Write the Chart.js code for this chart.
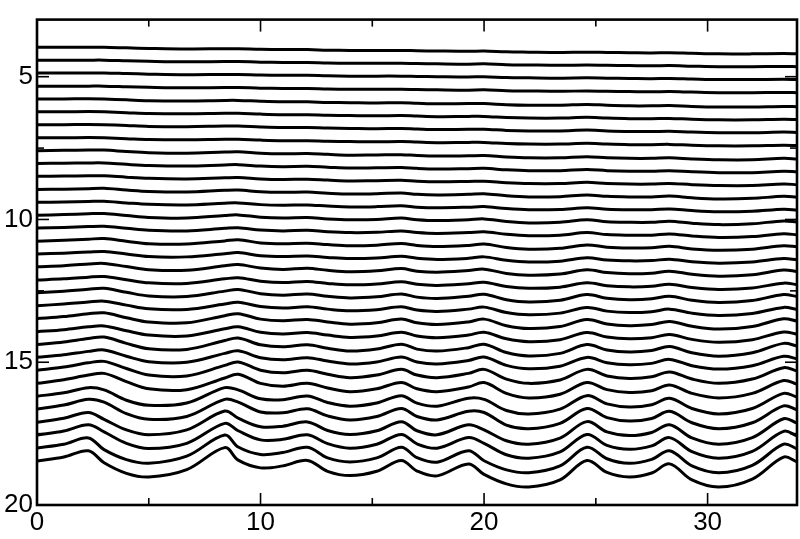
<!DOCTYPE html>
<html><head><meta charset="utf-8">
<script src="https://cdn.jsdelivr.net/npm/chart.js@4.4.0/dist/chart.umd.min.js"></script>
<style>html,body{margin:0;padding:0;background:#fff}canvas{display:block}</style>
</head><body>
<canvas id="c" width="800" height="539"></canvas>
<script>
// shared x positions (distance) for every profile
const xPositions = [0,1.2,2.3,3.0,4.0,5.0,6.7,8.4,9.0,10.0,11.0,12.1,13.0,14.0,15.2,16.3,17.0,17.9,19.3,20.0,21.0,22.0,23.4,24.6,25.5,26.5,27.5,28.3,29.3,30.5,32.0,33.4,34.0];
const xTickLabels = [0,10,20,30];
const xMinorTicks = [5,15,25];
const yTickLabels = [5,10,15,20];
const yMinorTicks = [7.5,12.5,17.5];

const profile00 = [3.97,3.97,3.97,3.97,3.99,4.01,4.03,4.02,4.02,4.04,4.05,4.05,4.07,4.08,4.08,4.08,4.09,4.10,4.11,4.10,4.13,4.14,4.15,4.14,4.15,4.16,4.17,4.16,4.18,4.20,4.20,4.19,4.20];
const profile01 = [4.42,4.42,4.42,4.42,4.44,4.46,4.48,4.47,4.47,4.49,4.50,4.50,4.52,4.53,4.53,4.53,4.54,4.55,4.56,4.55,4.58,4.59,4.60,4.59,4.60,4.61,4.62,4.61,4.63,4.65,4.65,4.64,4.65];
const profile02 = [4.87,4.87,4.87,4.87,4.89,4.91,4.93,4.92,4.92,4.94,4.95,4.95,4.97,4.98,4.98,4.98,4.99,5.00,5.01,5.00,5.03,5.04,5.05,5.04,5.05,5.06,5.07,5.06,5.08,5.10,5.10,5.09,5.10];
const profile03 = [5.33,5.33,5.33,5.33,5.35,5.37,5.39,5.38,5.38,5.40,5.41,5.41,5.43,5.44,5.44,5.44,5.45,5.46,5.47,5.46,5.49,5.50,5.51,5.50,5.51,5.52,5.53,5.52,5.54,5.56,5.56,5.55,5.56];
const profile04 = [5.78,5.78,5.77,5.78,5.81,5.84,5.85,5.83,5.83,5.86,5.88,5.88,5.90,5.91,5.92,5.91,5.93,5.95,5.94,5.94,5.98,6.00,6.00,5.97,6.00,6.02,6.02,6.01,6.04,6.06,6.06,6.04,6.05];
const profile05 = [6.23,6.23,6.22,6.23,6.26,6.29,6.30,6.28,6.28,6.31,6.33,6.33,6.35,6.36,6.37,6.36,6.38,6.40,6.39,6.39,6.43,6.45,6.45,6.42,6.45,6.47,6.47,6.46,6.49,6.51,6.51,6.49,6.50];
const profile06 = [6.68,6.68,6.67,6.68,6.71,6.74,6.75,6.73,6.73,6.76,6.78,6.78,6.80,6.81,6.82,6.81,6.83,6.85,6.84,6.84,6.88,6.90,6.90,6.87,6.90,6.92,6.92,6.91,6.94,6.96,6.96,6.94,6.95];
const profile07 = [7.14,7.14,7.13,7.14,7.17,7.20,7.21,7.19,7.19,7.22,7.24,7.24,7.26,7.27,7.28,7.27,7.29,7.31,7.30,7.30,7.34,7.36,7.36,7.33,7.36,7.38,7.38,7.37,7.40,7.42,7.42,7.40,7.41];
const profile08 = [7.59,7.58,7.57,7.57,7.62,7.66,7.68,7.64,7.63,7.68,7.70,7.69,7.72,7.75,7.74,7.73,7.76,7.78,7.77,7.76,7.81,7.84,7.84,7.80,7.84,7.86,7.86,7.84,7.88,7.91,7.91,7.86,7.88];
const profile09 = [8.04,8.03,8.02,8.02,8.07,8.11,8.13,8.09,8.08,8.13,8.15,8.14,8.17,8.20,8.19,8.18,8.21,8.23,8.22,8.21,8.26,8.29,8.29,8.25,8.29,8.31,8.31,8.29,8.33,8.36,8.36,8.31,8.33];
const profile10 = [8.49,8.48,8.47,8.47,8.52,8.56,8.58,8.54,8.53,8.58,8.60,8.59,8.62,8.65,8.64,8.63,8.66,8.68,8.67,8.66,8.71,8.74,8.74,8.70,8.74,8.76,8.76,8.74,8.78,8.81,8.81,8.76,8.78];
const profile11 = [8.95,8.94,8.92,8.91,8.97,9.02,9.04,8.98,8.97,9.03,9.05,9.04,9.08,9.11,9.10,9.07,9.12,9.14,9.12,9.10,9.17,9.21,9.20,9.14,9.19,9.21,9.21,9.18,9.24,9.28,9.26,9.19,9.22];
const profile12 = [9.40,9.39,9.37,9.36,9.42,9.47,9.49,9.43,9.42,9.48,9.50,9.49,9.53,9.56,9.55,9.52,9.57,9.59,9.57,9.55,9.62,9.66,9.65,9.59,9.64,9.66,9.66,9.63,9.69,9.73,9.71,9.64,9.67];
const profile13 = [9.85,9.83,9.80,9.79,9.86,9.93,9.95,9.86,9.84,9.92,9.95,9.93,9.98,10.01,10.00,9.95,10.01,10.04,10.01,9.98,10.07,10.12,10.10,10.01,10.08,10.10,10.10,10.06,10.13,10.18,10.15,10.05,10.09];
const profile14 = [10.30,10.28,10.25,10.24,10.31,10.38,10.40,10.31,10.29,10.37,10.40,10.38,10.43,10.46,10.45,10.40,10.46,10.49,10.46,10.43,10.52,10.57,10.55,10.46,10.53,10.55,10.55,10.51,10.58,10.63,10.60,10.50,10.54];
const profile15 = [10.76,10.73,10.69,10.67,10.76,10.85,10.86,10.75,10.71,10.82,10.85,10.83,10.88,10.92,10.90,10.84,10.91,10.95,10.91,10.86,10.98,11.04,11.01,10.89,10.97,11.00,10.99,10.94,11.03,11.08,11.04,10.92,10.96];
const profile16 = [11.21,11.18,11.14,11.12,11.21,11.30,11.31,11.20,11.16,11.27,11.30,11.28,11.33,11.37,11.35,11.29,11.36,11.40,11.36,11.31,11.43,11.49,11.46,11.34,11.42,11.45,11.44,11.39,11.48,11.53,11.49,11.37,11.41];
const profile17 = [11.66,11.62,11.56,11.54,11.65,11.76,11.78,11.62,11.58,11.70,11.75,11.71,11.78,11.83,11.80,11.72,11.81,11.85,11.79,11.74,11.89,11.95,11.91,11.76,11.86,11.90,11.88,11.81,11.92,11.99,11.94,11.77,11.82];
const profile18 = [12.12,12.08,12.02,12.00,12.11,12.22,12.24,12.08,12.04,12.16,12.21,12.17,12.24,12.29,12.26,12.18,12.27,12.31,12.25,12.20,12.35,12.41,12.37,12.22,12.32,12.36,12.34,12.27,12.38,12.45,12.40,12.23,12.28];
const profile19 = [12.57,12.51,12.44,12.41,12.55,12.68,12.70,12.51,12.45,12.60,12.65,12.61,12.69,12.75,12.71,12.61,12.72,12.77,12.69,12.62,12.81,12.89,12.83,12.63,12.76,12.81,12.78,12.69,12.83,12.91,12.84,12.63,12.70];
const profile20 = [13.02,12.96,12.89,12.86,13.00,13.13,13.15,12.96,12.90,13.05,13.10,13.06,13.14,13.20,13.16,13.06,13.17,13.22,13.14,13.07,13.26,13.34,13.28,13.08,13.21,13.26,13.23,13.14,13.28,13.36,13.29,13.08,13.15];
const profile21 = [13.47,13.40,13.30,13.27,13.44,13.59,13.62,13.37,13.30,13.49,13.55,13.50,13.59,13.67,13.62,13.49,13.62,13.68,13.59,13.49,13.72,13.82,13.75,13.50,13.66,13.72,13.68,13.57,13.74,13.84,13.75,13.48,13.56];
const profile22 = [13.93,13.86,13.76,13.73,13.90,14.05,14.08,13.83,13.76,13.95,14.01,13.96,14.05,14.13,14.08,13.95,14.08,14.14,14.05,13.95,14.18,14.28,14.21,13.96,14.12,14.18,14.14,14.03,14.20,14.30,14.21,13.94,14.02];
const profile23 = [14.38,14.29,14.17,14.12,14.34,14.53,14.55,14.24,14.15,14.39,14.46,14.39,14.51,14.61,14.54,14.37,14.54,14.61,14.49,14.37,14.66,14.78,14.69,14.38,14.57,14.64,14.59,14.45,14.67,14.79,14.67,14.34,14.43];
const profile24 = [14.83,14.74,14.62,14.57,14.79,14.98,15.00,14.69,14.60,14.84,14.91,14.84,14.96,15.06,14.99,14.82,14.99,15.06,14.94,14.82,15.11,15.23,15.14,14.83,15.02,15.09,15.04,14.90,15.12,15.24,15.12,14.79,14.88];
const profile25 = [15.28,15.17,15.02,14.97,15.22,15.45,15.48,15.11,14.99,15.28,15.37,15.28,15.42,15.54,15.45,15.25,15.45,15.54,15.39,15.25,15.59,15.74,15.62,15.25,15.48,15.57,15.51,15.34,15.59,15.74,15.59,15.19,15.31];
const profile26 = [15.74,15.61,15.45,15.39,15.68,15.93,15.96,15.55,15.42,15.74,15.84,15.74,15.90,16.03,15.93,15.71,15.93,16.03,15.87,15.71,16.09,16.25,16.12,15.71,15.96,16.06,16.00,15.80,16.09,16.25,16.09,15.64,15.77];
const profile27 = [16.19,16.07,15.89,15.97,16.33,16.51,16.43,15.89,15.97,16.28,16.31,16.18,16.41,16.54,16.43,16.17,16.43,16.54,16.26,16.30,16.69,16.81,16.64,16.17,16.46,16.57,16.49,16.26,16.62,16.81,16.62,16.09,16.22];
const profile28 = [16.64,16.50,16.30,16.40,16.80,17.00,16.90,16.30,16.40,16.74,16.77,16.63,16.88,17.02,16.90,16.62,16.90,17.02,16.72,16.76,17.20,17.33,17.14,16.62,16.94,17.06,16.97,16.72,17.12,17.33,17.12,16.53,16.67];
const profile29 = [17.10,16.96,16.76,17.00,17.37,17.54,17.37,16.71,16.96,17.26,17.24,17.09,17.39,17.53,17.40,17.08,17.40,17.54,17.19,17.37,17.75,17.87,17.66,17.08,17.44,17.57,17.46,17.19,17.65,17.87,17.64,16.98,17.13];
const profile30 = [17.55,17.41,17.19,17.44,17.84,18.02,17.84,17.14,17.40,17.72,17.70,17.54,17.85,18.01,17.87,17.53,17.86,18.01,17.64,17.84,18.24,18.36,18.14,17.53,17.91,18.05,17.93,17.64,18.13,18.36,18.12,17.42,17.58];
const profile31 = [18.00,17.87,17.65,18.06,18.41,18.54,18.29,17.55,17.97,18.23,18.16,17.98,18.35,18.49,18.35,17.98,18.34,18.50,18.10,18.45,18.77,18.87,18.63,17.98,18.38,18.54,18.40,18.10,18.63,18.87,18.61,17.87,18.03];
const profile32 = [18.46,18.32,18.10,18.52,18.89,19.02,18.76,17.99,18.43,18.70,18.63,18.44,18.82,18.97,18.82,18.44,18.81,18.98,18.56,18.93,19.26,19.37,19.12,18.44,18.86,19.02,18.88,18.56,19.12,19.37,19.09,18.32,18.49];

const profiles = [profile00,profile01,profile02,profile03,profile04,profile05,profile06,profile07,profile08,profile09,profile10,
  profile11,profile12,profile13,profile14,profile15,profile16,profile17,profile18,profile19,profile20,profile21,profile22,
  profile23,profile24,profile25,profile26,profile27,profile28,profile29,profile30,profile31,profile32];

const datasets = profiles.map((arr, k) => ({
  label: 'profile ' + k,
  data: arr.map((y, i) => ({x: xPositions[i], y: y})),
  borderColor: '#000',
  borderWidth: 3,
  pointRadius: 0,
  tension: 0.35,
  fill: false
}));

const frameTicks = {
  id: 'frameTicks',
  afterDraw(chart) {
    const {ctx, chartArea: a, scales: {x, y}} = chart;
    ctx.save();
    ctx.strokeStyle = '#000';
    ctx.lineWidth = 1.6;
    const tick = (v, len, horiz) => {
      if (horiz) {
        const px = x.getPixelForValue(v);
        ctx.beginPath(); ctx.moveTo(px, a.bottom); ctx.lineTo(px, a.bottom - len); ctx.stroke();
        ctx.beginPath(); ctx.moveTo(px, a.top); ctx.lineTo(px, a.top + len); ctx.stroke();
      } else {
        const py = y.getPixelForValue(v);
        ctx.beginPath(); ctx.moveTo(a.left, py); ctx.lineTo(a.left + len, py); ctx.stroke();
        ctx.beginPath(); ctx.moveTo(a.right, py); ctx.lineTo(a.right - len, py); ctx.stroke();
      }
    };
    xTickLabels.forEach(v => tick(v, 12, true));
    xMinorTicks.forEach(v => tick(v, 7, true));
    yTickLabels.forEach(v => tick(v, 12, false));
    yMinorTicks.forEach(v => tick(v, 7, false));
    ctx.lineWidth = 2.6;
    ctx.strokeRect(a.left, a.top, a.right - a.left, a.bottom - a.top);
    ctx.restore();
  }
};

const font = {family: "'Liberation Sans', Arial, sans-serif", size: 26};

new Chart(document.getElementById('c'), {
  type: 'line',
  data: {datasets},
  options: {
    responsive: false,
    animation: false,
    devicePixelRatio: 1,
    layout: {padding: {top: 19, right: 3, left: 0, bottom: 0}},
    plugins: {legend: {display: false}, tooltip: {enabled: false}},
    scales: {
      x: {
        type: 'linear', min: 0, max: 34,
        grid: {display: false, drawTicks: false},
        border: {display: false},
        afterBuildTicks: s => { s.ticks = xTickLabels.map(v => ({value: v})); },
        afterFit: s => { s.height = 34; },
        ticks: {font, color: '#000', padding: 2, maxRotation: 0, autoSkip: false}
      },
      y: {
        type: 'linear', reverse: true, min: 3, max: 20,
        grid: {display: false, drawTicks: false},
        border: {display: false},
        afterBuildTicks: s => { s.ticks = yTickLabels.map(v => ({value: v})); },
        afterFit: s => { s.width = 37; },
        ticks: {font, color: '#000', padding: 4, autoSkip: false}
      }
    }
  },
  plugins: [frameTicks]
});
</script>
</body></html>
